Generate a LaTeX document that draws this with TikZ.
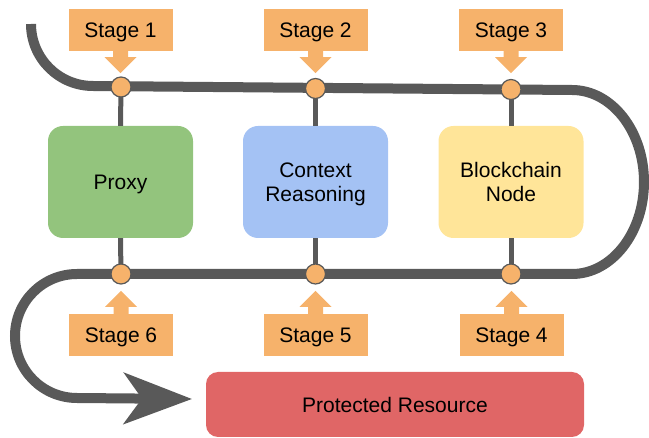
\documentclass[tikz,border=0pt]{standalone}
\usepackage{fontspec}
\setmainfont{Liberation Sans}
\usetikzlibrary{arrows.meta}

\definecolor{trackgray}{HTML}{595959}
\definecolor{stageorange}{HTML}{F6B26B}
\definecolor{proxygreen}{HTML}{93C47D}
\definecolor{ctxblue}{HTML}{A4C2F4}
\definecolor{chainyellow}{HTML}{FFE599}
\definecolor{resred}{HTML}{E06666}

\tikzset{
  track/.style={draw=trackgray, line width=10pt},
  spoke/.style={draw=trackgray, line width=5pt},
  stagebox/.style={fill=stageorange, minimum width=104pt, minimum height=42pt,
    inner sep=0pt, text depth=0pt, font=\fontsize{21}{24.5}\selectfont},
  callout/.style={fill=stageorange},
  hub/.style={circle, fill=stageorange, draw=trackgray, line width=1.2pt,
    minimum size=20pt, inner sep=0pt},
  block/.style={rounded corners=15pt, minimum width=145pt, minimum height=112pt,
    inner sep=0pt, align=center, text depth=-1pt,
    font=\fontsize{21}{24.5}\selectfont},
}

\begin{document}
\begin{tikzpicture}[x=1pt, y=-1pt]
  \useasboundingbox (0,0) rectangle (649,438);

  % stage hubs on the upper and lower rails
  \coordinate (c1) at (121,87);
  \coordinate (c2) at (315.5,88.5);
  \coordinate (c3) at (511,89.5);
  \coordinate (c6) at (121,274);
  \coordinate (c5) at (315.5,274);
  \coordinate (c4) at (511,274);

  % ends of the track
  \coordinate (trackstart) at (31,24);
  \coordinate (trackend) at (192,399);

  % the winding track
  \draw[track, -{Stealth[length=68pt, width=51pt, inset=18pt]}]
    (trackstart) arc[start angle=180, end angle=90, radius=62]
    -- (572,90)
    arc[start angle=-90, end angle=90, x radius=72, y radius=92]
    -- (77,274)
    arc[start angle=-90, end angle=-270, radius=62]
    -- (trackend);

  % components
  \node[block, fill=proxygreen, text depth=-2.5pt] (proxy) at (120.5,182) {Proxy};
  \node[block, fill=ctxblue]     (ctx)   at (315.5,182) {Context\\Reasoning};
  \node[block, fill=chainyellow] (chain) at (511,182)   {Blockchain\\Node};

  % spokes from the rails to the components
  \draw[spoke] (c1) -- (proxy.north);
  \draw[spoke] (c2) -- (ctx.north);
  \draw[spoke] (c3) -- (chain.north);
  \draw[spoke] (c6) -- (proxy.south);
  \draw[spoke] (c5) -- (ctx.south);
  \draw[spoke] (c4) -- (chain.south);

  \foreach \c in {c1,c2,c3,c4,c5,c6}
    \node[hub] (h\c) at (\c) {};

  % stage labels
  \node[stagebox] (s1) at (120.5,30)  {Stage 1};
  \node[stagebox] (s2) at (315.5,30)  {Stage 2};
  \node[stagebox] (s3) at (511,30)    {Stage 3};
  \node[stagebox] (s6) at (121,335)   {Stage 6};
  \node[stagebox] (s5) at (315.5,335) {Stage 5};
  \node[stagebox] (s4) at (511.5,335) {Stage 4};

  % downward pointers under the upper labels
  \foreach \s in {s1,s2,s3}
    \fill[callout] (\s.south) ++(-7.5,-1) -- ++(0,7) -- ++(-8.5,0)
      -- ++(16,16) -- ++(16,-16) -- ++(-8.5,0) -- ++(0,-7) -- cycle;

  % upward pointers above the lower labels
  \foreach \s in {s4,s5,s6}
    \fill[callout] (\s.north) ++(-7.5,1) -- ++(0,-8) -- ++(-8.5,0)
      -- ++(16,-16) -- ++(16,16) -- ++(-8.5,0) -- ++(0,8) -- cycle;

  % destination
  \node[block, fill=resred, rounded corners=12pt, minimum width=378pt,
        minimum height=65pt, text depth=-2pt] (res) at (395,404.5) {Protected Resource};
\end{tikzpicture}
\end{document}
